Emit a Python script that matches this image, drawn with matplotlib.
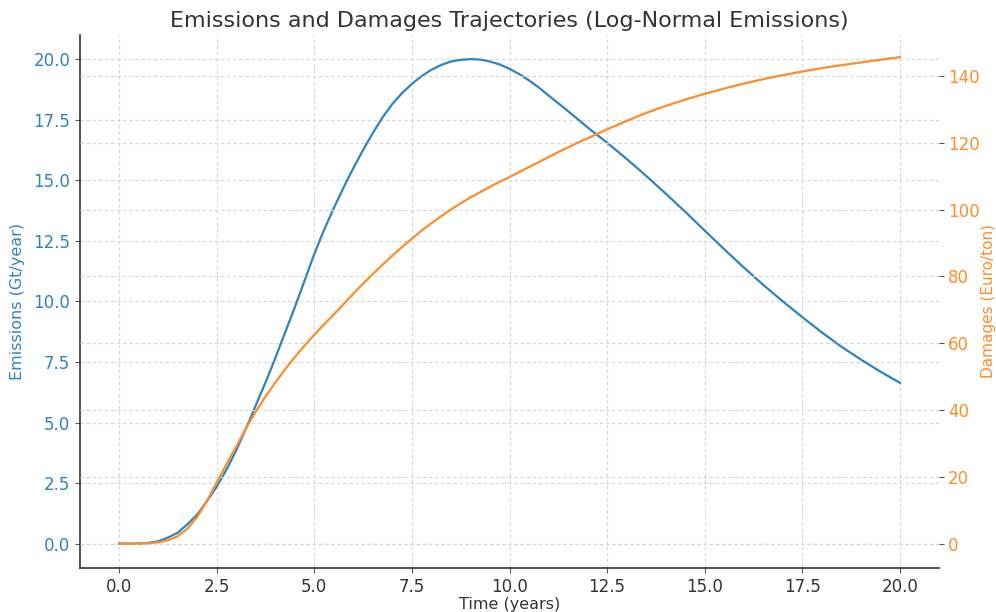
import matplotlib
matplotlib.use("Agg")
import matplotlib.pyplot as plt

time_years = [0.0, 0.25, 0.5, 0.75, 1.0, 1.25, 1.5, 1.75, 2.0, 2.25, 2.5, 2.75, 3.0, 3.25, 3.5,
              3.75, 4.0, 4.25, 4.5, 4.75, 5.0, 5.25, 5.5, 5.75, 6.0, 6.25, 6.5, 6.75, 7.0,
              7.25, 7.5, 7.75, 8.0, 8.25, 8.5, 8.75, 9.0, 9.25, 9.5, 9.75, 10.0, 10.25, 10.5,
              10.75, 11.0, 11.25, 11.5, 11.75, 12.0, 12.5, 13.0, 13.5, 14.0, 14.5, 15.0, 15.5,
              16.0, 16.5, 17.0, 17.5, 18.0, 18.5, 19.0, 19.5, 20.0]
emissions = [0.0, 0.0, 0.005, 0.03, 0.1, 0.25, 0.45, 0.8, 1.2, 1.75, 2.35, 3.05, 3.85, 4.75, 5.7,
             6.65, 7.65, 8.7, 9.75, 10.85, 11.95, 12.95, 13.85, 14.7, 15.5, 16.25, 16.95, 17.6, 18.15,
             18.6, 18.98, 19.3, 19.56, 19.76, 19.9, 19.97, 20.0, 19.98, 19.9, 19.78, 19.6, 19.38, 19.12,
             18.83, 18.5, 18.18, 17.85, 17.52, 17.18, 16.55, 15.88, 15.18, 14.45, 13.7, 12.92, 12.15,
             11.4, 10.68, 10.0, 9.35, 8.72, 8.13, 7.6, 7.1, 6.64]
damages = [0.0, 0.0, 0.05, 0.15, 0.4, 1.0, 2.2, 4.5, 8.0, 12.8, 18.3, 23.8, 29.0, 34.5, 39.5,
           44.0, 48.2, 52.1, 55.8, 59.3, 62.5, 65.6, 68.6, 71.7, 74.8, 77.8, 80.7, 83.5, 86.2,
           88.8, 91.3, 93.7, 95.9, 98.0, 100.0, 101.9, 103.6, 105.2, 106.8, 108.3, 109.7, 111.2, 112.7,
           114.2, 115.7, 117.2, 118.6, 120.0, 121.3, 124.0, 126.5, 128.9, 131.0, 132.9, 134.6, 136.2,
           137.7, 139.0, 140.2, 141.3, 142.3, 143.2, 144.0, 144.8, 145.6]

blue = "#2f83c0"
orange = "#ff8c2a"
grid_kw = dict(color="#d6d6d6", linestyle=(0, (3, 2.5)), linewidth=0.8)

fig = plt.figure(figsize=(9.96, 6.12), dpi=100)
ax = fig.add_axes([0.0803, 0.072, 0.8625, 0.871])
ax.plot(time_years, emissions, color=blue, linewidth=1.6)
ax.set_xlim(-1, 21)
ax.set_ylim(-1, 21)
ax.set_xticks([0, 2.5, 5, 7.5, 10, 12.5, 15, 17.5, 20])
ax.set_yticks([0, 2.5, 5, 7.5, 10, 12.5, 15, 17.5, 20])
ax.set_xticklabels(["0.0", "2.5", "5.0", "7.5", "10.0", "12.5", "15.0", "17.5", "20.0"])
ax.set_yticklabels(["0.0", "2.5", "5.0", "7.5", "10.0", "12.5", "15.0", "17.5", "20.0"])
ax.set_xlabel("Time (years)", fontsize=11.5, color="#333333", labelpad=1)
ax.set_ylabel("Emissions (Gt/year)", fontsize=11.5, color=blue, labelpad=6)
ax.tick_params(axis="y", colors="#555555", labelcolor=blue, labelsize=12)
ax.tick_params(axis="x", colors="#555555", labelcolor="#333333", labelsize=12)
ax.grid(True, **grid_kw)
ax.set_title("Emissions and Damages Trajectories (Log-Normal Emissions)", fontsize=16,
             color="#333333", pad=6)
for s in ["top", "right"]:
    ax.spines[s].set_visible(False)
for s in ["left", "bottom"]:
    ax.spines[s].set_color("#333333")
    ax.spines[s].set_linewidth(1.2)

ax2 = ax.twinx()
ax2.plot(time_years, damages, color=orange, linewidth=1.6)
ax2.set_ylim(-7.25, 152.25)
ax2.set_yticks([0, 20, 40, 60, 80, 100, 120, 140])
ax2.set_ylabel("Damages (Euro/ton)", fontsize=11, color=orange, labelpad=1)
ax2.tick_params(axis="y", colors="#555555", labelcolor=orange, labelsize=12, pad=3)
ax2.grid(True, **grid_kw)
for s in ["top", "right", "left", "bottom"]:
    ax2.spines[s].set_visible(False)

fig.savefig("out.png", dpi=100)
